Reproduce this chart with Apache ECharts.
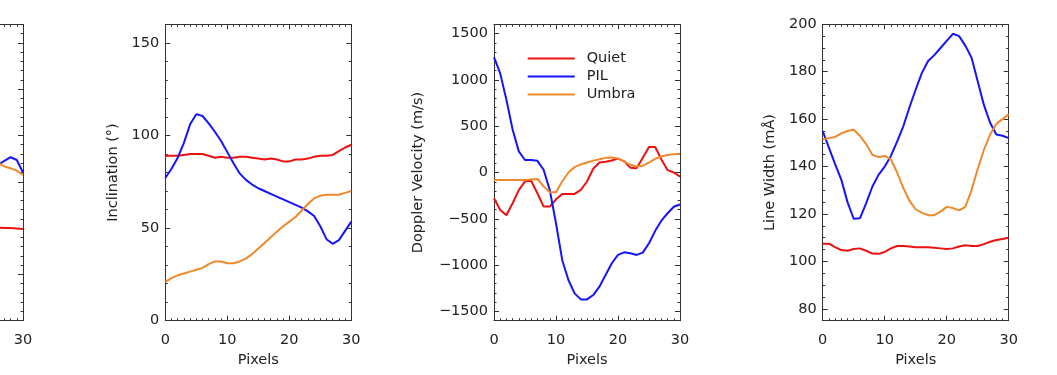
<!DOCTYPE html>
<html><head><meta charset="utf-8">
<script src="https://cdn.jsdelivr.net/npm/echarts@6/dist/echarts.min.js"></script>
<style>html,body{margin:0;padding:0;background:#fff}#c{width:1057px;height:375px}</style>
</head><body><div id="c"></div>
<script>
// ---- data ----
const pixels = [0,1,2,3,4,5,6,7,8,9,10,11,12,13,14,15,16,17,18,19,20,21,22,23,24,25,26,27,28,29,30];
const p1Pixels = [26,27,28,29,30];   // visible part of the cut-off first panel

const seriesNames = ['Quiet','PIL','Umbra'];
const seriesColors = ['#ee1111','#1414ff','#f0882c'];

// panel 1 (cut off, only right edge visible)
const p1Quiet = [1005,1002,1000,995,990];
const p1PIL   = [1685,1725,1765,1735,1600];
const p1Umbra = [1700,1665,1645,1620,1575];

// panel 2: Inclination
const incQuiet = [89,89,89,89.5,90,90,90,89,88,88.5,88,88,88.5,88.5,88,87.5,87,87.5,87,86,86,87,87,87.5,88.5,89,89,89.5,91.5,93.5,95];
const incPIL   = [77,82,88,96,106,111.5,110.5,106.5,102,97,91,85,79.5,76,73.5,71.5,70,68.5,67,65.5,64,62.5,61,59,56.5,51,44,41.5,43.5,48.5,53.5];
const incUmbra = [21,23,24.5,25.5,26.5,27.5,28.5,30.5,32,32,31,31,32,33.5,36,39,42,45,48,51,53.5,56,59.5,63,66,67.5,68,68,68,69,70];

// panel 3: Doppler velocity
const dopQuiet = [-278,-404,-461,-332,-190,-95,-90,-224,-368,-368,-290,-231,-231,-231,-187,-97,40,108,115,130,150,120,50,45,160,275,275,140,25,0,-45];
const dopPIL   = [1245,1070,785,465,228,135,135,126,30,-190,-548,-944,-1161,-1305,-1370,-1370,-1323,-1233,-1107,-980,-890,-862,-872,-890,-865,-764,-630,-520,-440,-370,-345];
const dopUmbra = [-80,-80,-82,-82,-82,-80,-75,-70,-150,-213,-213,-97,0,58,87,108,128,144,158,162,152,118,83,65,72,108,148,173,190,198,202];

// panel 4: Line width
const lwQuiet = [107.5,107.5,106,104.8,104.5,105.2,105.5,104.5,103.3,103.2,104,105.5,106.5,106.5,106.3,106,106,106,105.8,105.5,105.2,105.5,106.3,106.8,106.5,106.5,107.3,108.3,109,109.5,110];
const lwPIL   = [155,148,141,134.5,125,118,118.2,124.5,131.5,136.5,140,144.5,150.5,157,165,172.5,179.5,184.5,187,190,193,196,195,191,186,176,166,158.5,153.5,153,152];
const lwUmbra = [151.5,152,152.5,154,155,155.5,153,149.5,145,144,144.5,143,137.5,131,125.5,122,120.5,119.5,119.5,121,123,122.5,121.5,123,130,139,147,153.5,158,160,162];

// tick labels
const p1Ticks = [0,500,1000,1500,2000,2500,3000];
const p2Ticks = [0,50,100,150];
const p3Ticks = [-1500,-1000,-500,0,500,1000,1500];
const p4Ticks = [80,100,120,140,160,180,200];
const xTicks = [0,10,20,30];
const p1XTicks = [30];

// ---- layout ----
function range(a,b,s){const r=[];for(let v=a;v<=b+1e-9;v+=s)r.push(Math.round(v*1000)/1000);return r;}
const TOP=24.3, H=296.4, W=186;
const axisColor='#333', textColor='#222', FS=14.5, FF='DejaVu Sans';
const fmt = v => String(v).replace('-', '\u2212');

// panel 1 is cut off by the image edge: only its last 23 px are shown
const p1Visible = 23;
const p1XMin = 30 - p1Visible * 30 / W;

const panels = [
  {left:0,      width:p1Visible, xMin:p1XMin, min:0,    max:3200, ticks:p1Ticks, minor:100, name:'', gap:45, xs:p1Pixels, data:[p1Quiet,p1PIL,p1Umbra], cut:true},
  {left:165.3,  width:W, xMin:0, min:0,    max:160,  ticks:p2Ticks, minor:10,  name:'Inclination (°)', gap:45, xs:pixels, data:[incQuiet,incPIL,incUmbra]},
  {left:494,    width:W, xMin:0, min:-1600,max:1600, ticks:p3Ticks, minor:100, name:'Doppler Velocity (m/s)', gap:68, xs:pixels, data:[dopQuiet,dopPIL,dopUmbra]},
  {left:822.7,  width:W, xMin:0, min:75,   max:200,  ticks:p4Ticks, minor:5,   name:'Line Width (mÅ)', gap:45, xs:pixels, data:[lwQuiet,lwPIL,lwUmbra]}
];

const grid=[], xAxis=[], yAxis=[], series=[];
panels.forEach((p,g)=>{
  grid.push({left:p.left, top:TOP, width:p.width, height:H, containLabel:false});
  let xBase;
  if (!p.cut) {
    xBase = {type:'value', gridIndex:g, min:0, max:30, interval:10,
      axisLine:{show:true, onZero:false, lineStyle:{color:axisColor,width:1}},
      axisTick:{show:true, inside:true, length:5, lineStyle:{color:axisColor}},
      minorTick:{show:true, splitNumber:10, length:2.5, lineStyle:{color:axisColor}},
      splitLine:{show:false}, minorSplitLine:{show:false}};
  } else {
    const minorX = range(Math.ceil(p.xMin), 30, 1);
    xBase = {type:'value', gridIndex:g, min:p.xMin, max:30,
      axisLine:{show:true, onZero:false, lineStyle:{color:axisColor,width:1}},
      axisTick:{show:true, inside:true, length:2.5, customValues:minorX, lineStyle:{color:axisColor}},
      splitLine:{show:false}};
  }
  const labelCfg = {show:true, margin:12, color:textColor, fontSize:FS, fontFamily:FF, formatter:fmt};
  if (p.cut) labelCfg.customValues = p1XTicks;
  xAxis.push(Object.assign({}, xBase, {position:'bottom',
    axisLabel:labelCfg,
    name:p.cut ? '' : 'Pixels', nameLocation:'middle', nameGap:29,
    nameTextStyle:{color:textColor, fontSize:FS, fontFamily:FF}}));
  xAxis.push(Object.assign({}, xBase, {position:'top', axisLabel:{show:false}}));
  const minors = range(p.min, p.max, p.minor);
  const yBase = {type:'value', gridIndex:g, min:p.min, max:p.max, splitLine:{show:false}};
  // left main
  yAxis.push(Object.assign({}, yBase, {position:'left', show:!p.cut,
    axisLine:{show:true, onZero:false, lineStyle:{color:axisColor,width:1}},
    axisTick:{show:true, inside:true, length:5, customValues:p.ticks, lineStyle:{color:axisColor}},
    axisLabel:{show:true, customValues:p.ticks, margin:6, color:textColor, fontSize:FS, fontFamily:FF, formatter:fmt},
    name:p.name, nameLocation:'middle', nameGap:p.gap,
    nameTextStyle:{color:textColor, fontSize:FS, fontFamily:FF}}));
  // left minor
  yAxis.push(Object.assign({}, yBase, {position:'left', show:!p.cut,
    axisLine:{show:false, onZero:false},
    axisTick:{show:true, inside:true, length:2.5, customValues:minors, lineStyle:{color:axisColor}},
    axisLabel:{show:false}}));
  // right main
  yAxis.push(Object.assign({}, yBase, {position:'right',
    axisLine:{show:true, onZero:false, lineStyle:{color:axisColor,width:1}},
    axisTick:{show:true, inside:true, length:5, customValues:p.ticks, lineStyle:{color:axisColor}},
    axisLabel:{show:false}}));
  // right minor
  yAxis.push(Object.assign({}, yBase, {position:'right',
    axisLine:{show:false, onZero:false},
    axisTick:{show:true, inside:true, length:2.5, customValues:minors, lineStyle:{color:axisColor}},
    axisLabel:{show:false}}));
  p.data.forEach((vals,k)=>{
    series.push({type:'line', name:seriesNames[k], xAxisIndex:2*g, yAxisIndex:4*g,
      data:p.xs.map((x,i)=>[x, vals[i]]), symbol:'none', clip:true,
      lineStyle:{color:seriesColors[k], width:2}, itemStyle:{color:seriesColors[k]}});
  });
});

const chart = echarts.init(document.getElementById('c'), null, {renderer:'canvas'});
chart.setOption({
  animation:false,
  backgroundColor:'#fff',
  textStyle:{fontFamily:FF},
  grid, xAxis, yAxis, series,
  legend:{show:true, orient:'vertical', left:522.7, top:46, itemWidth:47, itemHeight:2, itemGap:3,
    icon:'rect', data:seriesNames,
    textStyle:{color:textColor, fontSize:FS, fontFamily:FF, padding:[0,0,0,7]}}
});
</script></body></html>
